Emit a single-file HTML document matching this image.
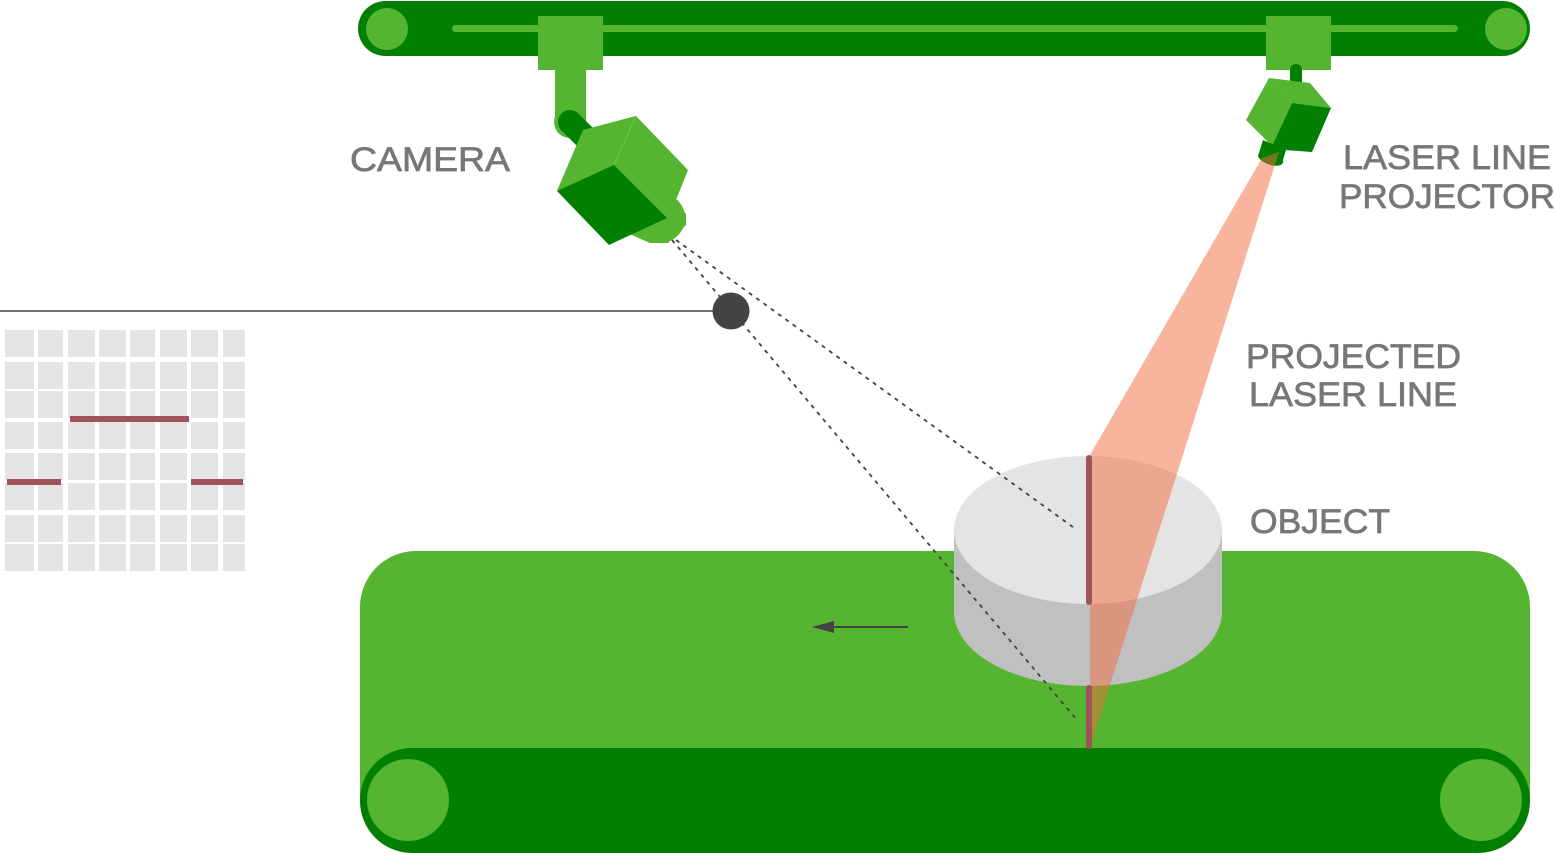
<!DOCTYPE html>
<html><head><meta charset="utf-8"><style>html,body{margin:0;padding:0;background:#fff}svg{display:block}</style></head>
<body>
<svg width="1555" height="853" viewBox="0 0 1555 853" xmlns="http://www.w3.org/2000/svg">
<!-- top rail -->
<rect x="358" y="1" width="1172" height="55" rx="27.5" fill="#007f00"/>
<circle cx="387" cy="29" r="21" fill="#55b530"/>
<circle cx="1506" cy="29" r="21" fill="#55b530"/>
<rect x="452" y="25" width="1006" height="7" rx="3.5" fill="#55b530"/>
<!-- camera slider & arm -->
<rect x="538" y="16" width="65" height="54" fill="#55b530"/>
<rect x="555" y="68" width="31" height="56" fill="#55b530"/>
<circle cx="570" cy="122" r="16" fill="#55b530"/>
<!-- camera body -->
<polygon points="557,191 583,130 636,116 688,170 676,200 686,214 686,225 668,243 650,243 620,230" fill="#55b530"/>
<circle cx="660" cy="218" r="25" fill="#55b530"/>
<line x1="570" y1="122" x2="598" y2="150" stroke="#007f00" stroke-width="24" stroke-linecap="round"/>
<circle cx="570" cy="122" r="11" fill="#007f00"/>
<polygon points="583,130 636,116 614,165 557,191" fill="#55b530"/>
<line x1="636" y1="116" x2="614" y2="165" stroke="#6cc84a" stroke-width="1"/>
<polygon points="557,191 614,165 667,218 609,245" fill="#007f00"/>
<!-- projector -->
<rect x="1266" y="16" width="65" height="54" fill="#55b530"/>
<line x1="1296" y1="70" x2="1296" y2="92" stroke="#007f00" stroke-width="12" stroke-linecap="round"/>
<polygon points="1269,78 1310,83 1331,108 1292,103" fill="#55b530"/>
<polygon points="1269,78 1292,103 1272,146 1246,120" fill="#55b530"/>
<polygon points="1292,103 1331,108 1312,152 1285,150 1272,146" fill="#007f00"/>
<path d="M1263,140 L1286,150 L1283,160 A12,6 20 0 1 1258,156 Z" fill="#007f00"/>
<!-- grid -->
<g fill="#e4e4e4">
<g id="row">
<rect x="5" y="330" width="29" height="27"/><rect x="38" y="330" width="25" height="27"/><rect x="68" y="330" width="27" height="27"/><rect x="99" y="330" width="27" height="27"/><rect x="130" y="330" width="25" height="27"/><rect x="160" y="330" width="27" height="27"/><rect x="191" y="330" width="27" height="27"/><rect x="223" y="330" width="22" height="27"/>
</g>
<use href="#row" y="32"/><use href="#row" y="61"/><use href="#row" y="92"/><use href="#row" y="123"/><use href="#row" y="153"/><use href="#row" y="185"/><use href="#row" y="214"/>
</g>
<rect x="70" y="416" width="119" height="6" fill="#a0525a"/>
<rect x="7" y="479" width="54" height="6" fill="#a0525a"/>
<rect x="191" y="479" width="52" height="6" fill="#a0525a"/>
<!-- conveyor -->
<rect x="360" y="551" width="1170" height="302" rx="56" fill="#55b530"/>
<rect x="360" y="748" width="1170" height="105" rx="52" fill="#007f00"/>
<circle cx="408" cy="800" r="41" fill="#55b530"/>
<circle cx="1481" cy="800" r="41" fill="#55b530"/>
<line x1="908" y1="627" x2="826" y2="627" stroke="#444" stroke-width="2"/>
<polygon points="812,627 834,621 834,633" fill="#444"/>
<!-- object -->
<path d="M954,530 L954,612 A134,74 0 0 0 1222,612 L1222,530 Z" fill="#c0c0c0"/>
<ellipse cx="1088" cy="530" rx="134" ry="74" fill="#e4e4e4"/>
<!-- camera view guide -->
<line x1="0" y1="311" x2="731" y2="311" stroke="#444" stroke-width="1.5"/>
<line x1="676" y1="240" x2="1077" y2="530" stroke="#444" stroke-width="1.8" stroke-dasharray="4,5"/>
<line x1="672" y1="240" x2="1077" y2="720" stroke="#444" stroke-width="1.8" stroke-dasharray="4,5"/>
<circle cx="731" cy="311" r="18.5" fill="#444"/>
<!-- beam -->
<polygon points="1262,158 1279,152 1090,748 1090,455" fill="#f26a3b" opacity="0.5"/>
<line x1="1089" y1="458" x2="1089" y2="602" stroke="#a0525a" stroke-width="6" stroke-linecap="round"/>
<line x1="1089" y1="688" x2="1089" y2="746" stroke="#a0525a" stroke-width="6" stroke-linecap="round"/>
<!-- labels -->
<g font-family="Liberation Sans, sans-serif" font-size="34" fill="#777" stroke="#777" stroke-width="0.7">
<text x="350" y="171" textLength="160" lengthAdjust="spacingAndGlyphs">CAMERA</text>
<text x="1343" y="169" textLength="208" lengthAdjust="spacingAndGlyphs">LASER LINE</text>
<text x="1339" y="208" textLength="216" lengthAdjust="spacingAndGlyphs">PROJECTOR</text>
<text x="1246" y="368" textLength="215" lengthAdjust="spacingAndGlyphs">PROJECTED</text>
<text x="1249" y="406" textLength="208" lengthAdjust="spacingAndGlyphs">LASER LINE</text>
<text x="1250" y="533" textLength="140" lengthAdjust="spacingAndGlyphs">OBJECT</text>
</g>
</svg>
</body></html>
